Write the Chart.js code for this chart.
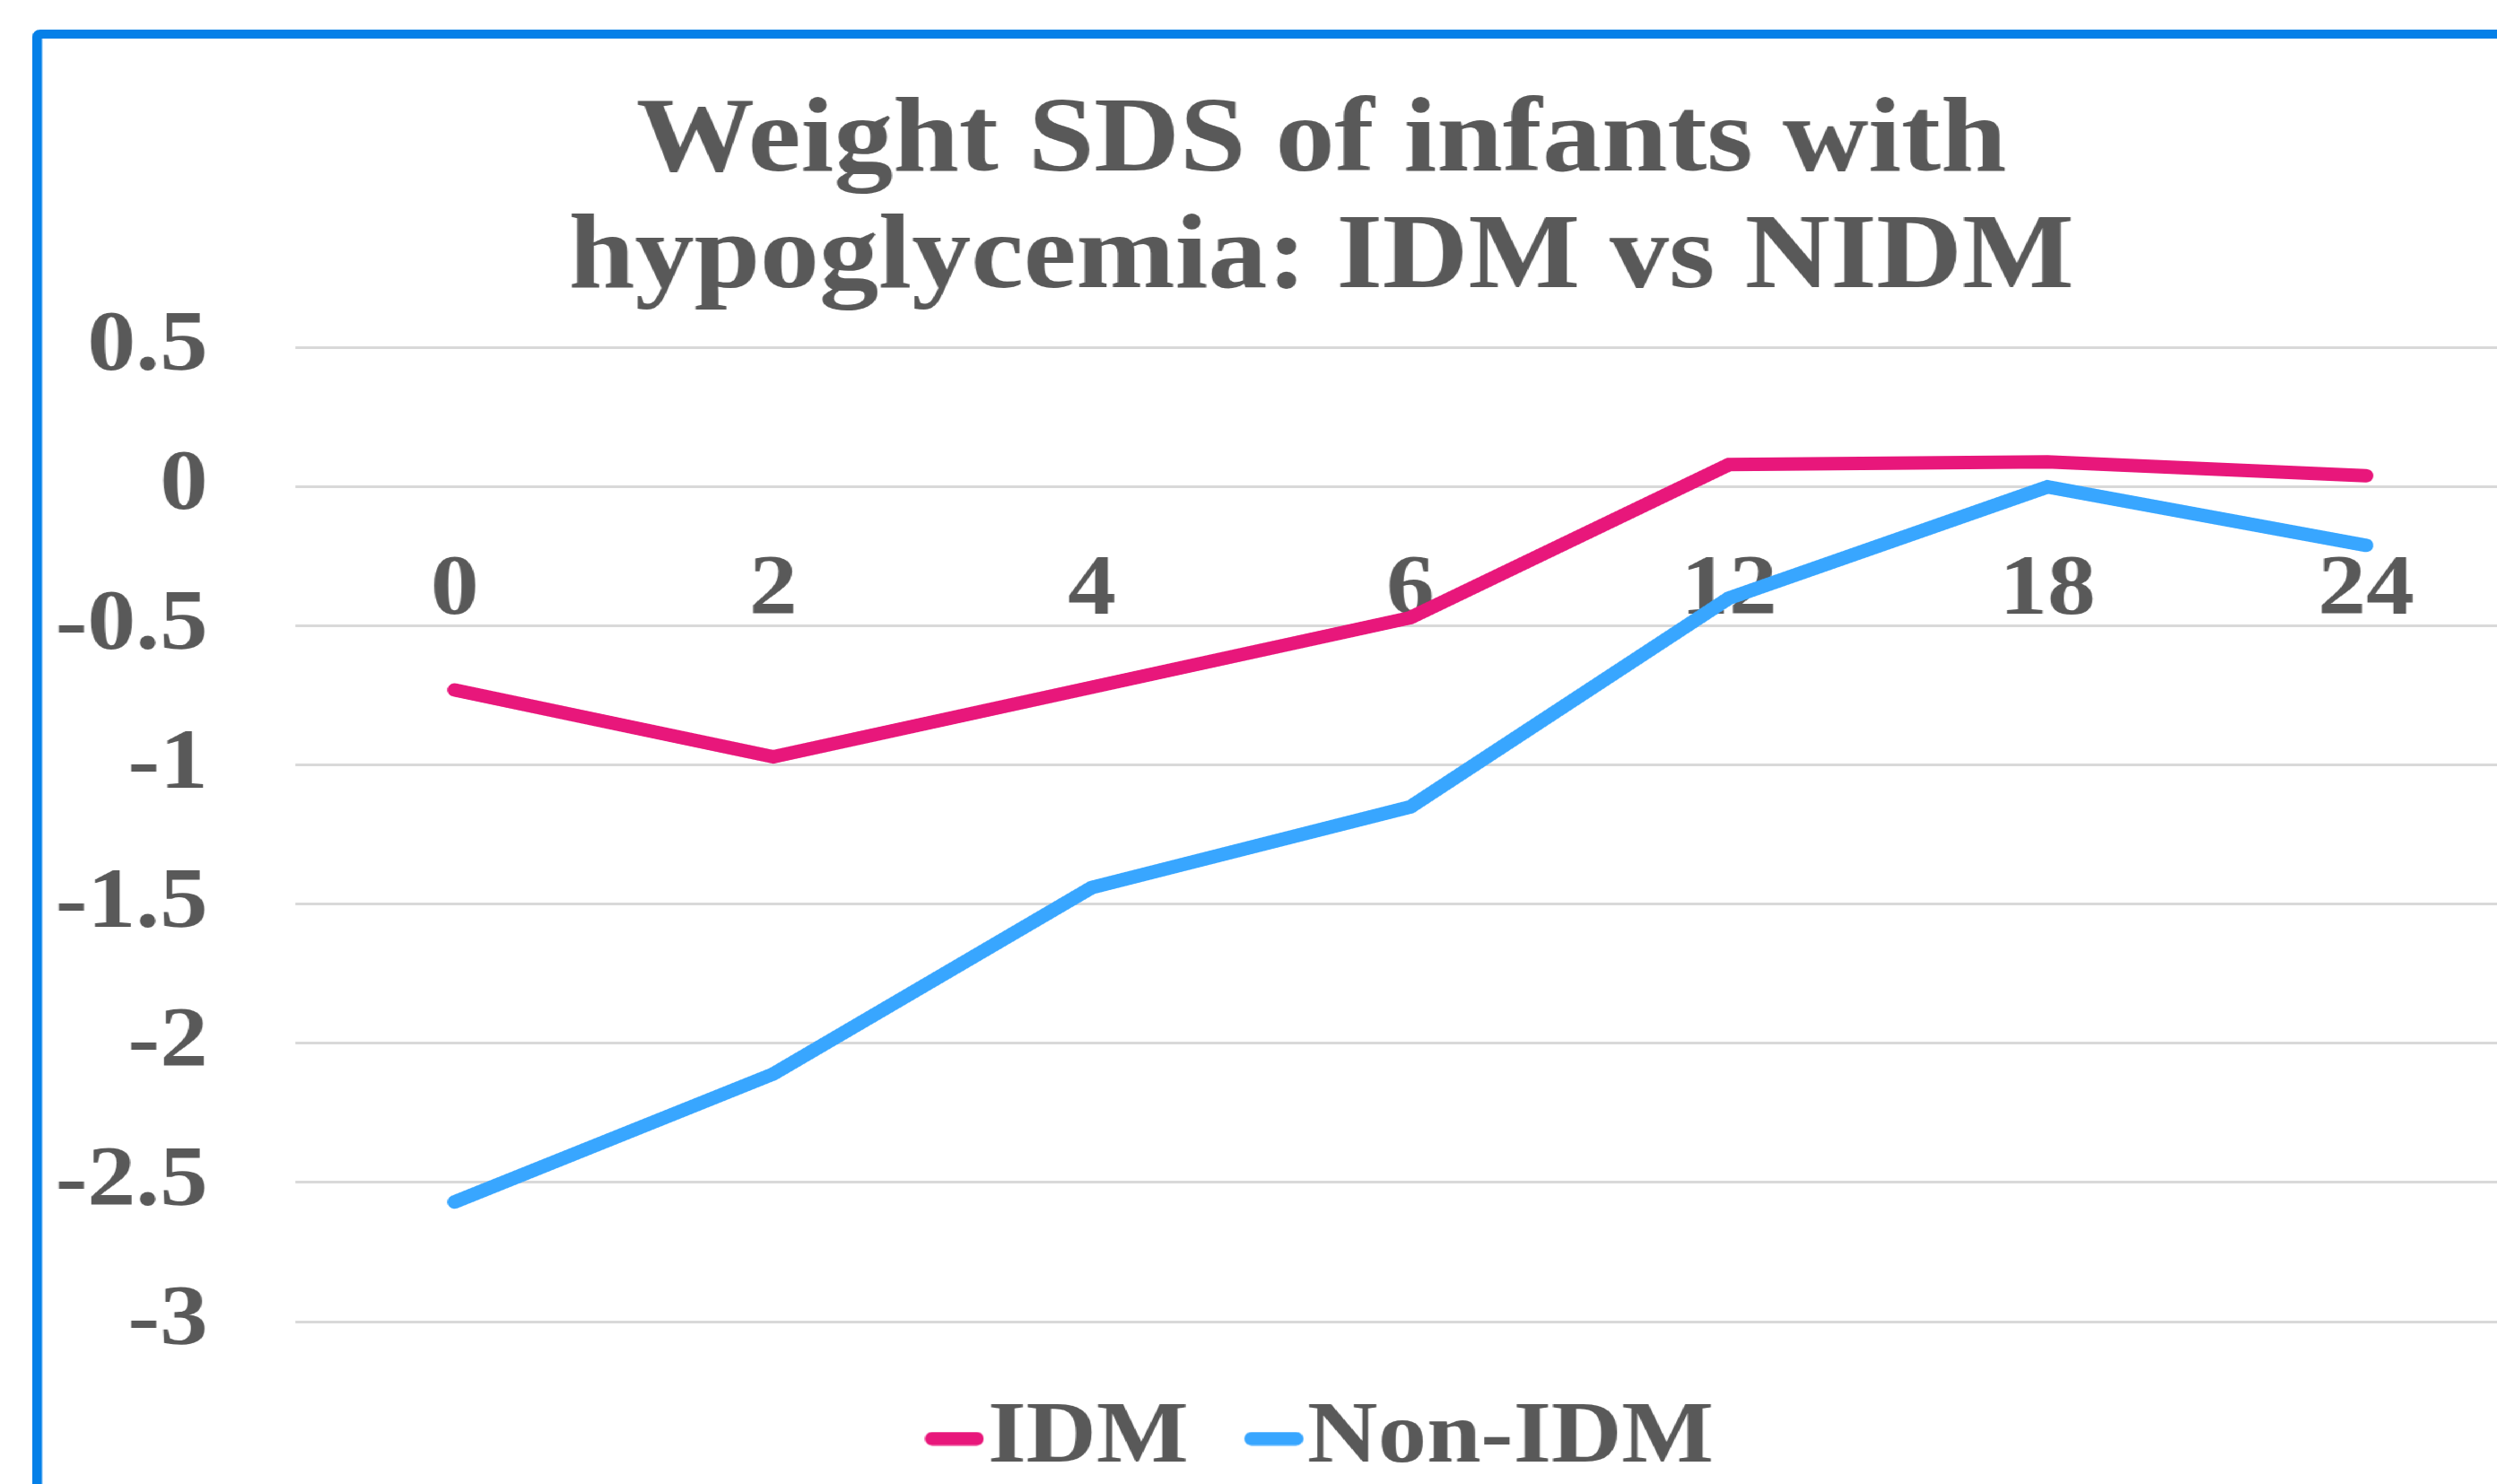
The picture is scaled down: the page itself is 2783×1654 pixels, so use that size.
<!DOCTYPE html>
<html><head><meta charset="utf-8">
<script src="https://cdn.jsdelivr.net/npm/chart.js@4.4.0/dist/chart.umd.min.js"></script>
<style>
html,body{margin:0;padding:0;width:2783px;height:1654px;overflow:hidden;background:#fff;}
#stretch{position:absolute;left:0;top:0;transform:scaleX(1.12);transform-origin:0 0;}
#frame{position:absolute;left:32px;top:33px;width:2580px;height:1700px;border:10px solid #0580e8;border-radius:8px;background:#fff;}
#c{position:absolute;left:0;top:0;}
</style></head><body>
<div id="stretch"><div id="frame"><canvas id="c" width="2546" height="1619"></canvas></div></div>
<script>
const titleLines = ['Weight SDS of infants with', 'hypoglycemia: IDM vs NIDM'];
const categories = ['0', '2', '4', '6', '12', '18', '24'];
const idmValues = [-0.73, -0.97, -0.72, -0.47, 0.08, 0.09, 0.04];
const nonIdmValues = [-2.57, -2.11, -1.44, -1.15, -0.40, 0.00, -0.21];
const seriesNames = ['IDM', 'Non-IDM'];
const yMin = -3, yMax = 0.5, yStep = 0.5;

const textColor = '#595959';
const fontFamily = "'Liberation Serif', 'Times New Roman', serif";
const idmColor = '#e8177b';
const nonIdmColor = '#38a6ff';

// Legend swatch: a short round-capped line placed at the right end of the swatch image
function legendSwatch(color) {
  const c = document.createElement('canvas');
  c.width = 99; c.height = 16;
  const g = c.getContext('2d');
  g.strokeStyle = color; g.lineWidth = 15; g.lineCap = 'round';
  g.beginPath(); g.moveTo(c.width - 59 + 7.5, 8); g.lineTo(c.width - 7.5, 8); g.stroke();
  return c;
}

new Chart(document.getElementById('c'), {
  type: 'line',
  data: {
    labels: categories,
    datasets: [
      { label: seriesNames[0], data: idmValues, borderColor: idmColor, backgroundColor: idmColor,
        borderWidth: 15, borderCapStyle: 'round', pointRadius: 0, tension: 0,
        pointStyle: legendSwatch(idmColor) },
      { label: seriesNames[1], data: nonIdmValues, borderColor: nonIdmColor, backgroundColor: nonIdmColor,
        borderWidth: 15, borderCapStyle: 'round', pointRadius: 0, tension: 0,
        pointStyle: legendSwatch(nonIdmColor) }
    ]
  },
  options: {
    responsive: false,
    devicePixelRatio: 1,
    animation: false,
    layout: { padding: { left: 13, right: 13, top: 0, bottom: 0 } },
    plugins: {
      title: {
        display: true, text: titleLines, color: textColor,
        font: { family: fontFamily, size: 118, weight: 'bold', lineHeight: 1.1 },
        padding: { top: 52, bottom: 33 }
      },
      legend: {
        position: 'bottom',
        labels: {
          color: textColor, usePointStyle: true, pointStyleWidth: 10,
          padding: 60, font: { family: fontFamily, size: 97, weight: 'bold' }
        }
      },
      tooltip: { enabled: false }
    },
    scales: {
      x: {
        type: 'category', offset: true, position: { y: 0 },
        grid: { display: false, drawTicks: false }, border: { display: false },
        ticks: { color: textColor, padding: 59, maxRotation: 0, autoSkip: false,
          font: { family: fontFamily, size: 96, weight: 'bold' } }
      },
      x2: {
        type: 'category', position: 'bottom', display: true,
        grid: { display: false, drawTicks: false }, border: { display: false },
        ticks: { display: false },
        afterFit: (scale) => { scale.height = 22; }
      },
      y: {
        min: yMin, max: yMax,
        grid: { color: '#d9d9d9', lineWidth: 3, drawTicks: false }, border: { display: false },
        ticks: { stepSize: yStep, color: textColor, padding: 87,
          font: { family: fontFamily, size: 96, weight: 'bold' },
          callback: (v) => String(Math.round(v * 10) / 10) },
        afterFit: (scale) => { scale.width = 239; }
      },
      y2: {
        position: 'right', display: true,
        grid: { display: false, drawTicks: false }, border: { display: false },
        ticks: { display: false },
        afterFit: (scale) => { scale.width = 62; }
      }
    }
  }
});
</script>
</body></html>
